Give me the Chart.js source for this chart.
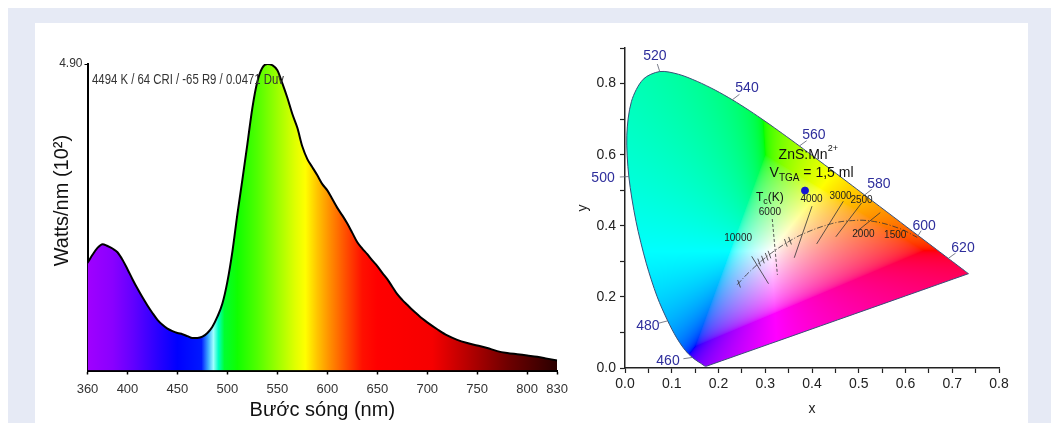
<!DOCTYPE html>
<html>
<head>
<meta charset="utf-8">
<script src="https://cdn.jsdelivr.net/npm/chart.js@4"></script>
<style>
  html, body { margin: 0; padding: 0; background: #fff; }
  body { width: 1059px; height: 423px; position: relative; overflow: hidden; }
  #frame { position: absolute; left: 8px; top: 8px; right: 8px; bottom: 0; background: #e6eaf5; }
  #panel { position: absolute; left: 35px; top: 23px; width: 993px; height: 400px; background: #fff; }
  canvas { position: absolute; }
  #spectrum { left: 35px; top: 23px; }
  #cie { left: 575px; top: 23px; }
</style>
</head>
<body>
<div id="frame"></div>
<div id="panel"></div>
<canvas id="spectrum" width="540" height="400"></canvas>
<canvas id="cie" width="453" height="400"></canvas>
<script>
// ---- spectrum (left) ----
const wavelengths = [360, 365, 370, 375, 380, 385, 390, 395, 400, 405, 410, 415, 420, 425, 430, 435, 440, 445, 450, 455,
  460, 465, 470, 475, 480, 485, 490, 495, 500, 505, 510, 515, 520, 525, 530, 535, 540, 545, 550, 555,
  560, 565, 570, 575, 580, 585, 590, 595, 600, 605, 610, 615, 620, 625, 630, 635, 640, 645, 650, 655,
  660, 665, 670, 675, 680, 685, 690, 695, 700, 710, 720, 730, 740, 750, 760, 770, 780, 790, 800, 810, 820, 830];
const irradiance = [1.72, 1.85, 1.96, 2.02, 1.99, 1.95, 1.89, 1.77, 1.62, 1.46, 1.31, 1.17, 1.04, 0.92, 0.81, 0.73, 0.67, 0.63, 0.60, 0.58,
  0.55, 0.52, 0.52, 0.54, 0.60, 0.70, 0.86, 1.07, 1.42, 1.90, 2.50, 3.05, 3.62, 4.20, 4.62, 4.84, 4.90, 4.88, 4.80, 4.59,
  4.36, 4.10, 3.88, 3.58, 3.38, 3.25, 3.12, 2.98, 2.88, 2.74, 2.60, 2.48, 2.35, 2.20, 2.05, 1.95, 1.86, 1.76, 1.67, 1.56,
  1.46, 1.34, 1.22, 1.13, 1.05, 0.97, 0.90, 0.83, 0.77, 0.66, 0.56, 0.49, 0.44, 0.40, 0.36, 0.31, 0.28, 0.26, 0.24, 0.22, 0.19, 0.16];
const spectrumTicks = [360, 400, 450, 500, 550, 600, 650, 700, 750, 800, 830];
const spectrumMax = 4.90;
const spectrumNote = '4494 K / 64 CRI / -65 R9 / 0.0471 Duv';

// ---- chromaticity (right) ----
const locusNm = [380, 385, 390, 395, 400, 405, 410, 415, 420, 425, 430, 435, 440, 445, 450, 455, 460, 465, 470, 475,
  480, 485, 490, 495, 500, 505, 510, 515, 520, 525, 530, 535, 540, 545, 550, 555, 560, 565, 570, 575,
  580, 585, 590, 595, 600, 605, 610, 615, 620, 625, 630, 635, 640, 645, 650, 655, 660, 665, 670, 680, 690, 700];
const locusX = [0.1741, 0.1740, 0.1738, 0.1736, 0.1733, 0.1730, 0.1726, 0.1721, 0.1714, 0.1703, 0.1689, 0.1669, 0.1644, 0.1611, 0.1566, 0.1510, 0.1440, 0.1355, 0.1241, 0.1096,
  0.0913, 0.0687, 0.0454, 0.0235, 0.0082, 0.0039, 0.0139, 0.0389, 0.0743, 0.1142, 0.1547, 0.1929, 0.2296, 0.2658, 0.3016, 0.3373, 0.3731, 0.4087, 0.4441, 0.4788,
  0.5125, 0.5448, 0.5752, 0.6029, 0.6270, 0.6482, 0.6658, 0.6801, 0.6915, 0.7006, 0.7079, 0.7140, 0.7190, 0.7230, 0.7260, 0.7283, 0.7300, 0.7311, 0.7320, 0.7334, 0.7344, 0.7347];
const locusY = [0.0050, 0.0050, 0.0049, 0.0049, 0.0048, 0.0048, 0.0048, 0.0048, 0.0051, 0.0058, 0.0069, 0.0086, 0.0109, 0.0138, 0.0177, 0.0227, 0.0297, 0.0399, 0.0578, 0.0868,
  0.1327, 0.2007, 0.2950, 0.4127, 0.5384, 0.6548, 0.7502, 0.8120, 0.8338, 0.8262, 0.8059, 0.7816, 0.7543, 0.7243, 0.6923, 0.6589, 0.6245, 0.5896, 0.5547, 0.5202,
  0.4866, 0.4544, 0.4242, 0.3965, 0.3725, 0.3514, 0.3340, 0.3197, 0.3083, 0.2993, 0.2920, 0.2859, 0.2809, 0.2770, 0.2740, 0.2717, 0.2700, 0.2689, 0.2680, 0.2666, 0.2656, 0.2653];

const planckX = [0.2399, 0.2565, 0.2637, 0.2807, 0.2952, 0.3064, 0.3221, 0.3451, 0.3805, 0.4369, 0.4770, 0.5267, 0.5857, 0.6251];
const planckY = [0.2341, 0.2577, 0.2673, 0.2883, 0.3048, 0.3166, 0.3318, 0.3516, 0.3768, 0.4041, 0.4137, 0.4133, 0.3931, 0.3674];

const isoLabels = ['10000', '6000', '4000', '3000', '2500', '2000'];
const isoStartX = [0.271, 0.315, 0.400, 0.467, 0.506, 0.546];
const isoStartY = [0.314, 0.419, 0.455, 0.469, 0.464, 0.437];
const isoEndX = [0.307, 0.326, 0.362, 0.410, 0.451, 0.496];
const isoEndY = [0.237, 0.262, 0.310, 0.349, 0.369, 0.384];

const planckTickX = [0.244, 0.287, 0.295, 0.303, 0.309, 0.344, 0.353];
const planckTickY = [0.237, 0.297, 0.305, 0.313, 0.319, 0.352, 0.358];

const sampleX = [0.385];
const sampleY = [0.499];

const xTickValues = [0, 0.05, 0.1, 0.15, 0.2, 0.25, 0.3, 0.35, 0.4, 0.45, 0.5, 0.55, 0.6, 0.65, 0.7, 0.75, 0.8];
const yTickValues = [0, 0.1, 0.2, 0.3, 0.4, 0.5, 0.6, 0.7, 0.8, 0.9];

// label text + where it sits (data coords)
const markNm = [460, 480, 500, 520, 540, 560, 580, 600, 620];
const markX = [0.092, 0.049, -0.047, 0.064, 0.261, 0.404, 0.543, 0.640, 0.723];
const markY = [0.020, 0.118, 0.535, 0.876, 0.786, 0.654, 0.518, 0.400, 0.338];
const cctText = ['10000', '6000', '4000', '3000', '2500', '2000', '1500'];
const cctX = [0.242, 0.310, 0.399, 0.461, 0.506, 0.510, 0.578];
const cctY = [0.366, 0.437, 0.476, 0.483, 0.473, 0.377, 0.372];

const sans = "'Liberation Sans', Arial, sans-serif";
const narrow = "'Liberation Sans Narrow', 'Arial Narrow', 'Liberation Sans', Arial, sans-serif";

const spectrumStops = [
  [360, '#a000ff'], [385, '#8a00ff'], [405, '#6400ff'], [430, '#2a00ff'], [450, '#0000ff'], [474, '#0018ff'],
  [481, '#40b0ff'], [486, '#a0ffff'], [491, '#00ffc0'], [497, '#00ff30'], [510, '#10ff00'], [530, '#50ff00'],
  [550, '#9cff00'], [568, '#e0ff00'], [578, '#ffff00'], [590, '#ffc400'], [602, '#ff9000'], [618, '#ff5000'],
  [635, '#ff1000'], [650, '#ff0000'], [705, '#f60000'], [740, '#b80000'], [780, '#700000'], [830, '#2a0000']
];

function spectrumGradient(chart) {
  const area = chart.chartArea;
  if (!area) return 'rgba(0,0,0,0)';
  const sx = chart.scales.x;
  const x0 = sx.getPixelForValue(360), x1 = sx.getPixelForValue(830);
  const g = chart.ctx.createLinearGradient(x0, 0, x1, 0);
  spectrumStops.forEach(([w, c]) => g.addColorStop((w - 360) / 470, c));
  return g;
}

const notePlugin = {
  id: 'note',
  afterDatasetsDraw(chart) {
    const {ctx, scales: {x, y}} = chart;
    ctx.save();
    ctx.font = '14px ' + narrow;
    ctx.fillStyle = '#333';
    ctx.textBaseline = 'middle';
    ctx.fillText(spectrumNote, x.getPixelForValue(364.5), y.getPixelForValue(4.64), 192);
    ctx.restore();
  }
};

new Chart(document.getElementById('spectrum'), {
  type: 'line',
  data: {
    datasets: [{
      data: wavelengths.map((w, i) => ({x: w, y: irradiance[i]})),
      borderColor: '#000',
      borderWidth: 2,
      pointRadius: 0,
      cubicInterpolationMode: 'monotone',
      fill: 'origin',
      backgroundColor: ctx => spectrumGradient(ctx.chart)
    }]
  },
  options: {
    responsive: false,
    animation: false,
    layout: {padding: {top: 41, right: 16}},
    plugins: {legend: {display: false}, tooltip: {enabled: false}},
    scales: {
      x: {
        type: 'linear', min: 360, max: 830,
        afterBuildTicks: s => { s.ticks = spectrumTicks.map(v => ({value: v})); },
        afterFit: s => { s.height = 52.5; },
        border: {color: '#000', width: 2},
        grid: {drawOnChartArea: false, tickLength: 4, tickColor: '#000', tickWidth: 1.5},
        ticks: {color: '#333', font: {family: narrow, size: 13}, padding: 7, maxRotation: 0, autoSkip: false},
        title: {display: true, text: 'Bước sóng (nm)', color: '#111', font: {family: sans, size: 20}, padding: {bottom: 1}}
      },
      y: {
        min: 0, max: spectrumMax,
        afterBuildTicks: s => { s.ticks = [{value: spectrumMax}]; },
        afterFit: s => { s.width = 52.5; },
        border: {color: '#000', width: 2},
        grid: {drawOnChartArea: false, tickLength: 3, tickColor: '#000'},
        ticks: {color: '#333', font: {family: narrow, size: 12}, padding: 2, callback: v => v.toFixed(2)},
        title: {display: true, text: '      Watts/nm (10²)', color: '#111', font: {family: sans, size: 20}, padding: {top: 15}}
      }
    }
  },
  plugins: [notePlugin]
});

// chromaticity colour for a point of the xy plane
function xyToRgb(x, y) {
  if (y < 0.002) y = 0.002;
  const X = x / y, Y = 1, Z = (1 - x - y) / y;
  let r = 3.2406 * X - 1.5372 * Y - 0.4986 * Z;
  let g = -0.9689 * X + 1.8758 * Y + 0.0415 * Z;
  let b = 0.0557 * X - 0.2040 * Y + 1.0570 * Z;
  const m = Math.min(r, g, b);
  if (m < 0) { r -= m; g -= m; b -= m; }
  const M = Math.max(r, g, b) || 1;
  const enc = c => {
    c = c / M;
    c = c <= 0.0031308 ? 12.92 * c : 1.055 * Math.pow(c, 1 / 2.4) - 0.055;
    return Math.round(Math.max(0, Math.min(1, c)) * 255);
  };
  return [enc(r), enc(g), enc(b)];
}

let cieCache = null;
function ciePattern(chart) {
  const area = chart.chartArea;
  if (!area || !chart.scales.x) return 'rgba(0,0,0,0)';
  const key = [chart.width, chart.height, area.left, area.top, area.right, area.bottom].join();
  if (cieCache && cieCache.key === key) return cieCache.pattern;
  const off = document.createElement('canvas');
  off.width = chart.width;
  off.height = chart.height;
  const octx = off.getContext('2d');
  const img = octx.createImageData(off.width, off.height);
  const sx = chart.scales.x, sy = chart.scales.y;
  for (let py = Math.floor(area.top); py < Math.ceil(area.bottom); py++) {
    const cy = sy.getValueForPixel(py + 0.5);
    for (let px = Math.floor(area.left); px < Math.ceil(area.right); px++) {
      const cx = sx.getValueForPixel(px + 0.5);
      const c = xyToRgb(cx, cy);
      const k = (py * off.width + px) * 4;
      img.data[k] = c[0]; img.data[k + 1] = c[1]; img.data[k + 2] = c[2]; img.data[k + 3] = 255;
    }
  }
  octx.putImageData(img, 0, 0);
  const pattern = chart.ctx.createPattern(off, 'no-repeat');
  cieCache = {key, pattern};
  return pattern;
}

function richText(ctx, parts, cx, cy) {
  // parts: [text, size, dy]
  let w = 0;
  parts.forEach(p => { ctx.font = p[1] + 'px ' + sans; w += ctx.measureText(p[0]).width; });
  let x = cx - w / 2;
  parts.forEach(p => {
    ctx.font = p[1] + 'px ' + sans;
    ctx.fillText(p[0], x, cy + p[2]);
    x += ctx.measureText(p[0]).width;
  });
}

const cieLabelPlugin = {
  id: 'cieLabels',
  afterDatasetsDraw(chart) {
    const {ctx, scales: {x: sx, y: sy}} = chart;
    ctx.save();
    ctx.textAlign = 'center';
    ctx.textBaseline = 'middle';
    markNm.forEach((nm, i) => {
      const k = locusNm.indexOf(nm);
      const lx = sx.getPixelForValue(locusX[k]), ly = sy.getPixelForValue(locusY[k]);
      const tx = sx.getPixelForValue(markX[i]), ty = sy.getPixelForValue(markY[i]);
      const d = Math.hypot(tx - lx, ty - ly) || 1;
      const len = Math.min(9, d * 0.5);
      ctx.strokeStyle = '#5a6070';
      ctx.lineWidth = 0.8;
      ctx.beginPath();
      ctx.moveTo(lx, ly);
      ctx.lineTo(lx + (tx - lx) / d * len, ly + (ty - ly) / d * len);
      ctx.stroke();
      ctx.fillStyle = '#2e2e9c';
      ctx.font = '14px ' + sans;
      ctx.fillText(String(nm), tx, ty);
    });
    ctx.fillStyle = '#222';
    ctx.font = '10px ' + sans;
    cctText.forEach((t, i) => ctx.fillText(t, sx.getPixelForValue(cctX[i]), sy.getPixelForValue(cctY[i])));
    ctx.textAlign = 'left';
    ctx.fillStyle = '#111';
    richText(ctx, [['T', 12, 0], ['c', 9, 4], ['(K)', 12, 0]], sx.getPixelForValue(0.31), sy.getPixelForValue(0.479));
    richText(ctx, [['ZnS:Mn', 14, 0], ['2+', 9, -6]], sx.getPixelForValue(0.392), sy.getPixelForValue(0.600));
    richText(ctx, [['V', 14, 0], ['TGA', 10, 5], [' = 1,5 ml', 14, 0]], sx.getPixelForValue(0.399), sy.getPixelForValue(0.548));
    ctx.restore();
  }
};

const locusPoints = locusX.map((x, i) => ({x, y: locusY[i]}));
locusPoints.push(locusPoints[0]);

const isoSets = isoLabels.map((t, i) => ({
  data: [{x: isoStartX[i], y: isoStartY[i]}, {x: isoEndX[i], y: isoEndY[i]}],
  borderColor: '#333',
  borderWidth: 0.8,
  borderDash: t === '6000' ? [3, 2] : [],
  pointRadius: 0,
  fill: false
}));

new Chart(document.getElementById('cie'), {
  type: 'line',
  data: {
    datasets: [
      {
        data: locusPoints,
        order: 1,
        borderColor: '#3a4f78',
        borderWidth: 1,
        pointRadius: 0,
        tension: 0.3,
        fill: 'shape',
        backgroundColor: ctx => ciePattern(ctx.chart)
      },
      {
        data: planckX.map((x, i) => ({x, y: planckY[i]})),
        borderColor: '#333',
        borderWidth: 0.8,
        borderDash: [6, 2, 1, 2],
        pointRadius: 0,
        tension: 0.4,
        fill: false
      },
      ...isoSets,
      {
        data: planckTickX.map((x, i) => ({x, y: planckTickY[i]})),
        showLine: false,
        pointStyle: 'line',
        rotation: 70,
        pointRadius: 4,
        borderColor: '#333',
        borderWidth: 0.8
      },
      {
        data: sampleX.map((x, i) => ({x, y: sampleY[i]})),
        showLine: false,
        pointRadius: 3.5,
        backgroundColor: '#1414d2',
        borderColor: '#1414d2'
      }
    ]
  },
  options: {
    responsive: false,
    animation: false,
    layout: {padding: {top: 25, right: 29}},
    plugins: {legend: {display: false}, tooltip: {enabled: false}},
    scales: {
      x: {
        type: 'linear', min: 0, max: 0.8,
        afterBuildTicks: s => { s.ticks = xTickValues.map(v => ({value: v})); },
        afterFit: s => { s.height = 55; },
        border: {color: '#222', width: 1.5},
        grid: {drawOnChartArea: false, tickLength: 5, tickColor: '#222', tickWidth: 1.2},
        ticks: {
          color: '#222', font: {family: sans, size: 14}, padding: 3, maxRotation: 0, autoSkip: false,
          callback: v => (Math.round(v * 100) % 10 === 0 ? v.toFixed(1) : '')
        },
        title: {display: true, text: 'x', color: '#222', font: {family: sans, size: 14}, padding: {bottom: 5}}
      },
      y: {
        type: 'linear', min: 0, max: 0.9,
        afterBuildTicks: s => { s.ticks = yTickValues.map(v => ({value: v})); },
        afterFit: s => { s.width = 50; },
        border: {color: '#222', width: 1.5},
        grid: {drawOnChartArea: false, tickLength: 5, tickColor: '#222', tickWidth: 1.2},
        ticks: {
          color: '#222', font: {family: sans, size: 14}, padding: 4,
          callback: v => (Math.round(v * 100) % 20 === 0 ? v.toFixed(1) : '')
        },
        title: {display: true, text: 'y', color: '#222', font: {family: sans, size: 14}, padding: {top: 0}}
      }
    }
  },
  plugins: [cieLabelPlugin]
});
</script>
</body>
</html>
